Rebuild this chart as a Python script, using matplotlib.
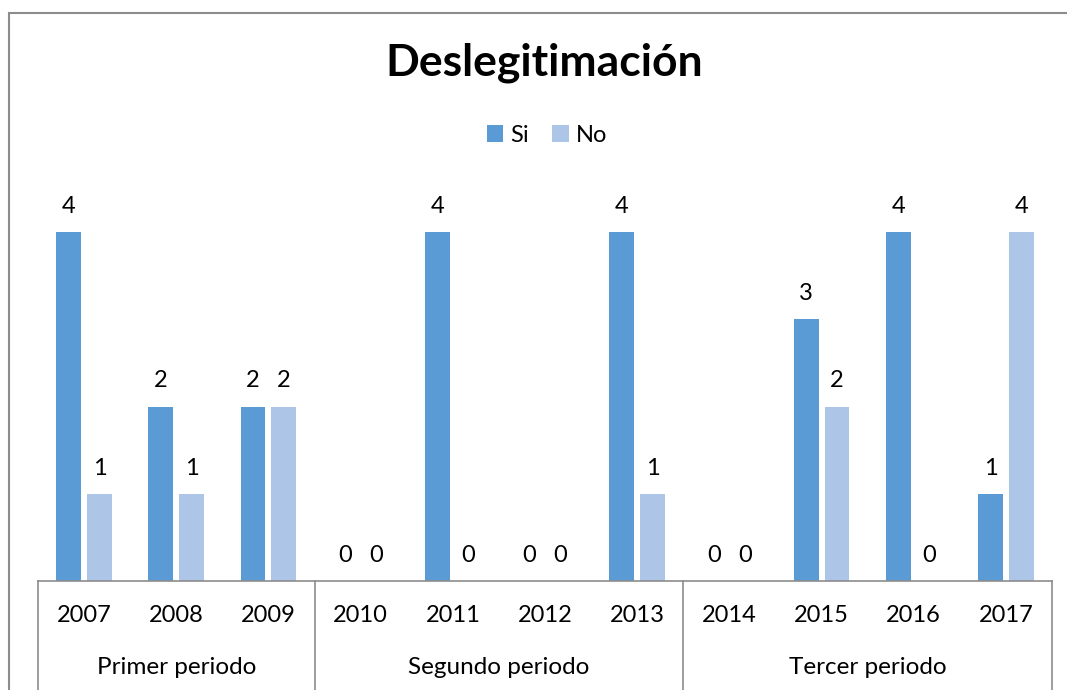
import matplotlib
matplotlib.use("Agg")
import matplotlib.pyplot as plt
from matplotlib.patches import Rectangle
import numpy as np

# data
years = ['2007', '2008', '2009', '2010', '2011', '2012', '2013', '2014', '2015', '2016', '2017']
si_vals = [4, 2, 2, 0, 4, 0, 4, 0, 3, 4, 1]
no_vals = [1, 1, 2, 0, 0, 0, 1, 0, 2, 0, 4]
periods = ['Primer periodo', 'Segundo periodo', 'Tercer periodo']
period_sizes = [3, 4, 4]

si_color = '#5B9BD5'
no_color = '#ADC6E7'

plt.rcParams['font.family'] = ['Lato', 'DejaVu Sans']

fig = plt.figure(figsize=(10.67, 6.9), dpi=100)
W, H = 1067.0, 690.0
ax = fig.add_axes([38 / W, (H - 581) / H, (1052 - 38) / W, (581 - 145) / H])

# chart frame (right and bottom edges are cut off like the reference)
fig.patches.append(Rectangle((8.5 / W, -0.05), 1.1, (H - 12.5) / H + 0.05,
                             transform=fig.transFigure, fill=False,
                             edgecolor='#8c8c8c', linewidth=1.5))

ind = np.arange(len(years))
w = 0.27
off = 0.168
b1 = ax.bar(ind - off, si_vals, w, color=si_color, label='Si')
b2 = ax.bar(ind + off, no_vals, w, color=no_color, label='No')

for bars, vals in ((b1, si_vals), (b2, no_vals)):
    for r, v in zip(bars, vals):
        ax.annotate(str(v), (r.get_x() + r.get_width() / 2, v), xytext=(0, 18.5),
                    textcoords='offset points', ha='center', va='center', fontsize=17)

ax.set_xlim(-0.5, len(years) - 0.5)
ax.set_ylim(0, 5)
ax.set_yticks([])
ax.set_xticks([])
for s in ('top', 'right', 'left'):
    ax.spines[s].set_visible(False)
ax.spines['bottom'].set_color('#8c8c8c')
ax.spines['bottom'].set_linewidth(1.2)

# two level category axis
ah = 581 - 145
trans = ax.get_xaxis_transform()
for i, y in enumerate(years):
    ax.text(i, -(616 - 581) / ah, y, transform=trans, ha='center', va='center', fontsize=17)
bounds = np.concatenate([[0], np.cumsum(period_sizes)]) - 0.5
for b in bounds:
    ax.plot([b, b], [0, -0.3], transform=trans, color='#8c8c8c', lw=1.2, clip_on=False)
for k, name in enumerate(periods):
    mid = (bounds[k] + bounds[k + 1]) / 2
    ax.text(mid, -(667 - 581) / ah, name, transform=trans, ha='center', va='center', fontsize=17.5)

fig.text(544 / W, 1 - 63 / H, 'Deslegitimación', ha='center', va='center',
         fontsize=32, fontweight='bold')
fig.legend(handles=[b1, b2], loc='center', bbox_to_anchor=(547 / W, 1 - 135 / H),
           ncol=2, frameon=False, fontsize=17, handlelength=0.7, handleheight=0.7,
           handletextpad=0.3, columnspacing=1.0)

fig.savefig('out.png', dpi=100)
